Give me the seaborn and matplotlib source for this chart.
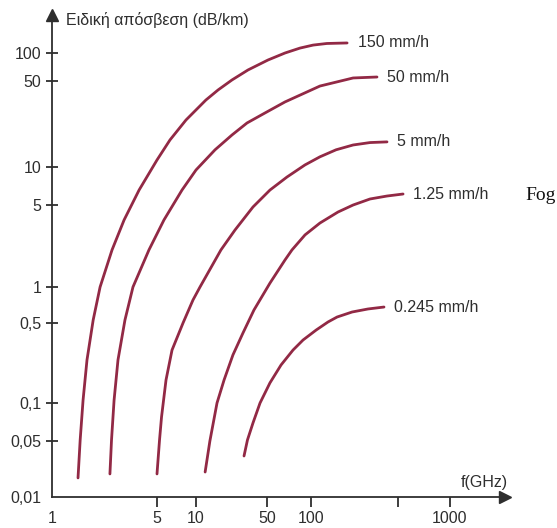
import numpy as np
import pandas as pd
import matplotlib.pyplot as plt
import seaborn as sns

# --- data: specific rain attenuation (dB/km) vs frequency (GHz) ---
rates = ["150 mm/h", "50 mm/h", "5 mm/h", "1.25 mm/h", "0.245 mm/h"]

f_150 = [1.49, 1.54, 1.61, 1.71, 1.88, 2.09, 2.51, 3.02, 3.80, 5.0, 6.3, 8.37, 12.5, 16.5,
         22.6, 32.5, 50.8, 66.4, 84.1, 104, 134, 195]
a_150 = [0.0173, 0.0509, 0.106, 0.238, 0.53, 1.0, 2.07, 3.73, 6.57, 11.4, 16.6, 24.1, 35.0, 42.3,
         51.3, 65.7, 84.1, 100, 112, 120, 124.5, 126]

f_50 = [2.43, 2.49, 2.59, 2.75, 3.06, 3.46, 4.42, 5.66, 7.80, 10.0, 15.4, 22.6, 31.8, 47.8,
        66.4, 118, 218, 339]
a_50 = [0.0194, 0.0509, 0.106, 0.238, 0.53, 1.0, 2.07, 3.73, 6.57, 9.47, 13.8, 18.2, 22.8, 27.5,
        33.8, 45.5, 53.9, 55.2]

f_5 = [5.0, 5.23, 5.42, 5.87, 6.53, 7.94, 9.48, 10.95, 17.6, 24.2, 36.4, 52.4, 68.5, 91.0,
       118, 159, 218, 298, 408]
a_5 = [0.0194, 0.0509, 0.0775, 0.159, 0.29, 0.5, 0.779, 1.0, 2.07, 3.06, 4.81, 6.57, 8.33, 10.4,
       12.1, 13.8, 15.1, 15.8, 16.0]

f_125 = [12.3, 13.7, 16.1, 18.9, 23.1, 29.0, 37.2, 52.4, 66.4, 74.1, 91.0, 118, 165, 218, 298, 408, 535]
a_125 = [0.0205, 0.05, 0.1, 0.159, 0.263, 0.409, 0.642, 1.08, 1.70, 2.07, 2.78, 3.51, 4.36, 5.0,
         5.58, 5.89, 6.11]

f_0245 = [29.7, 32.1, 36.4, 42.7, 52.4, 62.4, 75.3, 88.2, 110, 137, 162, 214, 287, 386]
a_0245 = [0.0325, 0.0509, 0.0695, 0.1, 0.150, 0.215, 0.290, 0.355, 0.434, 0.510, 0.561, 0.618,
          0.655, 0.680]

x_ticks = [1, 5, 10, 50, 100, 500, 1000]
x_labels = ["1", "5", "10", "50", "100", "", "1000"]
y_ticks = [0.01, 0.05, 0.1, 0.5, 1, 5, 10, 50, 100]
y_labels = ["0,01", "0,05", "0,1", "0,5", "1", "5", "10", "50", "100"]

curves = [(f_150, a_150), (f_50, a_50), (f_5, a_5), (f_125, a_125), (f_0245, a_0245)]
df = pd.concat(
    [pd.DataFrame({"f": f, "a": a, "rate": r}) for r, (f, a) in zip(rates, curves)],
    ignore_index=True,
)

# --- hand drawn log axes: decades are not evenly spaced in the original ---
XLOG = [-1, 0, 0.699, 1, 1.699, 2, 2.699, 3, 4]
XPOS = [-95, 52, 157, 196, 267, 311, 398, 450, 600]
YLOG = [-3, -2, -1.301, -1, -0.301, 0, 0.699, 1, 1.699, 2, 3]
YPOS = [-69, 31, 87, 125, 205, 241, 323, 361, 447, 475, 575]


def fwd_x(v):
    return np.interp(np.log10(np.clip(v, 1e-9, None)), XLOG, XPOS)


def inv_x(p):
    return 10 ** np.interp(p, XPOS, XLOG)


def fwd_y(v):
    return np.interp(np.log10(np.clip(v, 1e-9, None)), YLOG, YPOS)


def inv_y(p):
    return 10 ** np.interp(p, YPOS, YLOG)


sns.set_style("white")
plt.rcParams["font.family"] = ["Liberation Sans", "DejaVu Sans"]

W, H = 557, 528
fig = plt.figure(figsize=(W / 100, H / 100), dpi=100)
ax = fig.add_axes([52 / W, 31 / H, (505 - 52) / W, (497 - 15) / H])

ax.set_xscale("function", functions=(fwd_x, inv_x))
ax.set_yscale("function", functions=(fwd_y, inv_y))

line_col = "#922945"
text_col = "#2e2e2e"

sns.lineplot(data=df, x="f", y="a", hue="rate", palette=[line_col] * len(rates),
             sort=False, legend=False, linewidth=2.0, ax=ax)
for ln in ax.lines:
    ln.set_solid_joinstyle("round")
    ln.set_solid_capstyle("round")

ax.set_xlim(1, inv_x(505))
ax.set_ylim(0.01, inv_y(528 - 15))

# curve labels at the end of every curve
for r, (f, a) in zip(rates, curves):
    ax.annotate(r, xy=(f[-1], a[-1]), xytext=(7.5, 0), textcoords="offset points",
                va="center", ha="left", fontsize=11.5, color=text_col)

ax.set_xticks(x_ticks)
ax.set_xticklabels(x_labels)
ax.set_yticks(y_ticks)
ax.set_yticklabels(y_labels)
ax.minorticks_off()

for s in ["top", "right"]:
    ax.spines[s].set_visible(False)
for s in ["left", "bottom"]:
    ax.spines[s].set_color(text_col)
    ax.spines[s].set_linewidth(1.3)

ax.tick_params(axis="y", left=True, direction="inout", length=9, width=1.3, colors=text_col,
               labelsize=11.5, pad=3)
ax.tick_params(axis="x", bottom=True, direction="out", length=7, width=1.3, colors=text_col,
               labelsize=11.5, pad=3)
ax.yaxis.get_major_ticks()[0].tick1line.set_visible(False)
ax.xaxis.get_major_ticks()[0].tick1line.set_visible(False)

# arrow heads on both axes
ax.plot(1, 0, ">", color=text_col, markersize=9, transform=ax.transAxes, clip_on=False)
ax.plot(0, 1, "^", color=text_col, markersize=9, transform=ax.transAxes, clip_on=False)

ax.set_ylabel("Ειδική απόσβεση (dB/km)", rotation=0, ha="left", va="center",
              fontsize=11.5, color=text_col)
ax.yaxis.set_label_coords(14 / 453, (497 - 20) / 482)
ax.set_xlabel("f(GHz)", ha="center", va="center", fontsize=11.5, color=text_col)
ax.xaxis.set_label_coords((484 - 52) / 453, (497 - 483) / 482)

fig.text(525 / W, 1 - 195 / H, "Fog", family=["Liberation Serif", "DejaVu Serif"],
         fontsize=14, color="#111111", va="center", ha="left")

fig.savefig("out.png", dpi=100)
